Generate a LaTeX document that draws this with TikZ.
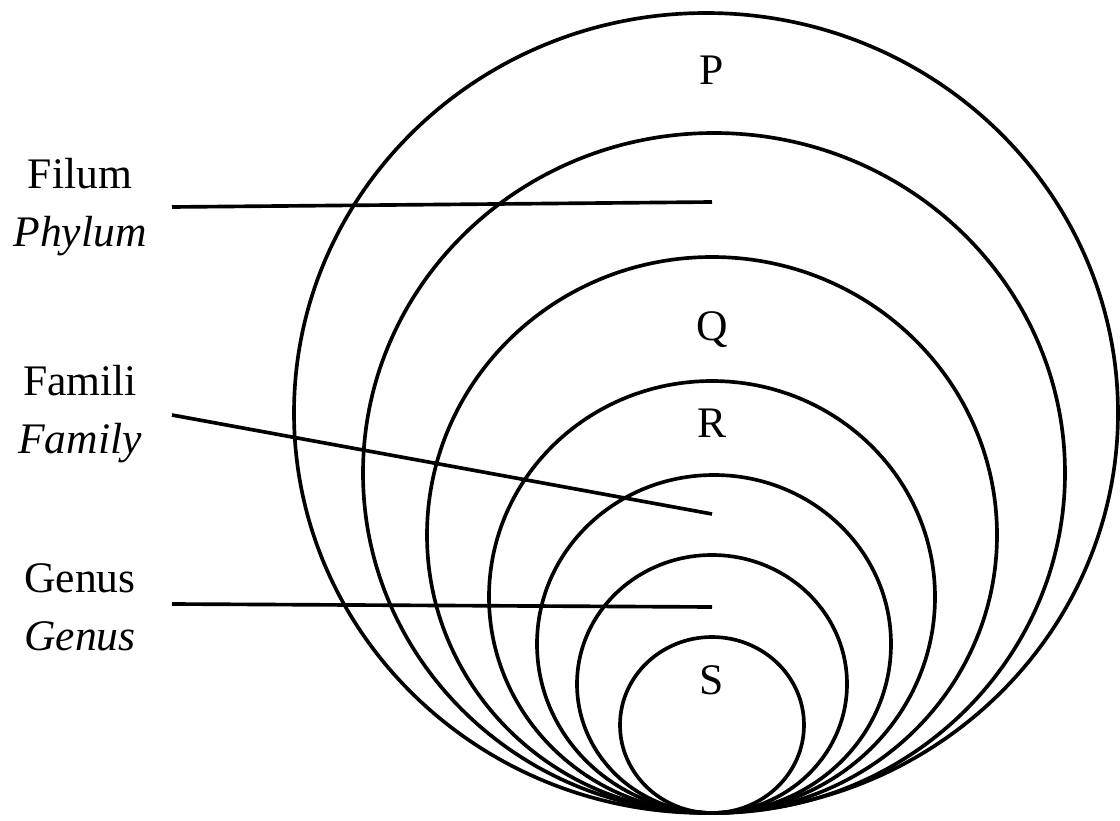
\documentclass[tikz,border=0pt]{standalone}
\usepackage{fontspec}
\setmainfont{Liberation Serif}
\usetikzlibrary{positioning}

\begin{document}
\begin{tikzpicture}[x=0.025cm,y=-0.025cm,line width=2.6pt,
  rank/.style={font=\fontsize{31}{34}\selectfont},
  tag/.style={font=\fontsize{31}{41}\selectfont,align=center}]
\useasboundingbox (0,0) rectangle (1120,821);
% nested circles, all touching at the bottom
\foreach \cx/\rx/\ry in {706/412/400,714/351/340,712/285/278,712/223/216,714/177/169,712/135/129,712/92/88}
  \draw (\cx,813-\ry) ellipse [x radius=\rx, y radius=\ry];

% letters inside the circles
\node[rank] (p) at (712,70) {P};
\node[rank] (q) at (712,330) {Q};
\node[rank] (r) at (712,423) {R};
\node[rank] (s) at (712,680) {S};

% rank names on the left
\node[tag] (filum) at (80,207) {Filum\\\textit{Phylum}};
\node[tag] (famili) at (80,414) {Famili\\\textit{Family}};
\node[tag] (genus) at (80,607) {Genus\\\textit{Genus}};

\coordinate (filumA) at (172,207);
\coordinate (filumB) at (712,202);
\coordinate (familiA) at (172,415);
\coordinate (familiB) at (712,514);
\coordinate (genusA) at (172,604);
\coordinate (genusB) at (712,607);

\draw (filumA) -- (filumB);
\draw (familiA) -- (familiB);
\draw (genusA) -- (genusB);
\end{tikzpicture}
\end{document}
